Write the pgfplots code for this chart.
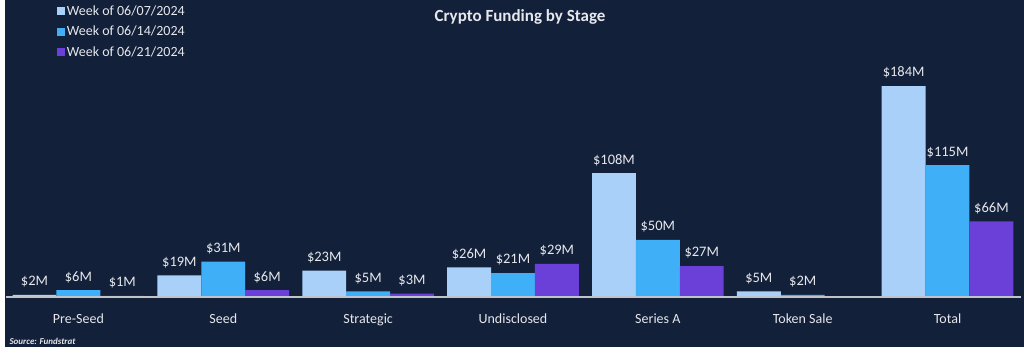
\documentclass[border=0pt]{standalone}
\usepackage{fontspec}
\setmainfont{Carlito}
\usepackage{pgfplots}
\pgfplotsset{compat=1.18}
\definecolor{bg}{HTML}{13203A}
\definecolor{cA}{HTML}{A8D0F8}
\definecolor{cB}{HTML}{3FB0F7}
\definecolor{cC}{HTML}{6A40D8}
\definecolor{txt}{HTML}{E6E8EC}
\definecolor{base}{HTML}{C0C4CA}
\begin{document}
\begin{tikzpicture}[x=1pt,y=1pt]
\fill[white] (0,0) rectangle (1024,357);
\fill[bg] (5,10) rectangle (1024,357);
\begin{axis}[
  at={(6pt,60pt)}, anchor=south west,
  scale only axis, width=1014pt, height=297pt,
  xmin=-0.5, xmax=6.5, ymin=0, ymax=259,
  axis line style={draw=none},
  /pgf/number format/assume math mode=true,
  ytick=\empty,
  xtick={0,1,2,3,4,5,6},
  xticklabels={Pre-Seed,Seed,Strategic,Undisclosed,Series A,Token Sale,Total},
  xticklabel style={text=txt, font=\fontsize{14}{16}\selectfont, yshift=-13pt},
  major tick length=0pt,
  ybar=0pt, bar width=0.303,
  clip=false,
  nodes near coords={\$\pgfmathprintnumber{\pgfplotspointmeta}M},
  every node near coord/.append style={text=txt, font=\fontsize{14.5}{16}\selectfont, yshift=4pt},
  legend style={at={(0.049,0.993)}, anchor=north west, draw=none, fill=none,
    text=txt, font=\fontsize{14}{16}\selectfont, row sep=5.5pt, inner sep=1pt,
    /tikz/every even column/.append style={column sep=0pt}},
  legend image code/.code={\fill[#1] (0pt,-4pt) rectangle (8pt,4pt);},
  legend cell align=left,
]
\addplot[fill=cA, draw=none] coordinates {(0,2) (1,19) (2,23) (3,26) (4,108) (5,5) (6,184)};
\addplot[fill=cB, draw=none] coordinates {(0,6) (1,31) (2,5) (3,21) (4,50) (5,2) (6,115)};
\addplot[fill=cC, draw=none] coordinates {(0,1) (1,6) (2,3) (3,29) (4,27) (6,66)};
\legend{Week of 06/07/2024, Week of 06/14/2024, Week of 06/21/2024}
\end{axis}
\draw[base, line width=1.8pt] (6,60) -- (1021,60);
\node[text=txt, font=\bfseries\fontsize{17}{19}\selectfont] at (520,340) {Crypto Funding by Stage};
\node[anchor=west, text=txt, font=\bfseries\itshape\fontsize{9}{10}\selectfont] at (6,16) {Source: Fundstrat};
\end{tikzpicture}
\end{document}
